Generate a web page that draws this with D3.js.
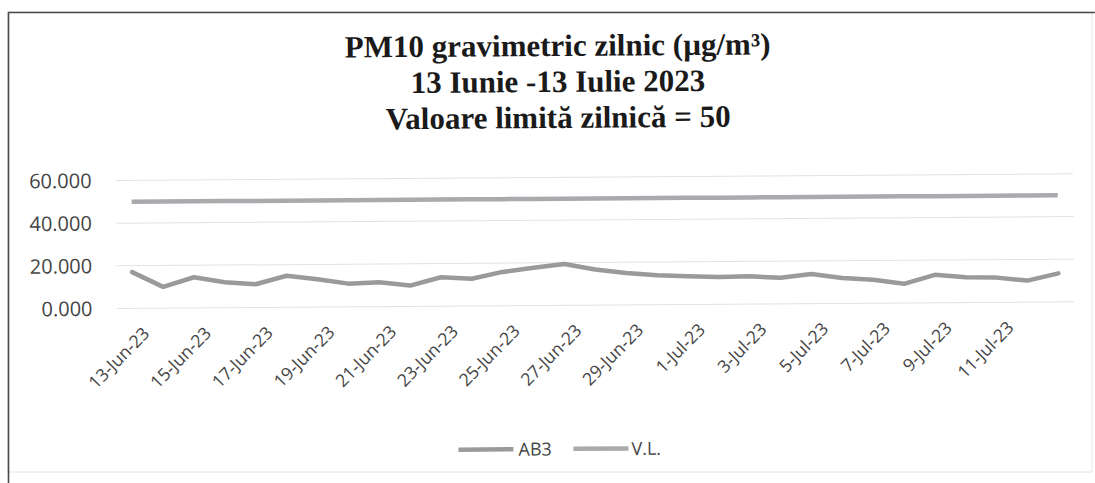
<!DOCTYPE html>
<html><head><meta charset="utf-8">
<script src="https://cdn.jsdelivr.net/npm/d3@7"></script>
<style>html,body{margin:0;padding:0;background:#fff}svg{display:block}</style>
</head><body>
<svg id="chart" width="1095" height="483"></svg>
<script>
const categories = ["13-Jun-23","14-Jun-23","15-Jun-23","16-Jun-23","17-Jun-23","18-Jun-23","19-Jun-23","20-Jun-23","21-Jun-23","22-Jun-23","23-Jun-23","24-Jun-23","25-Jun-23","26-Jun-23","27-Jun-23","28-Jun-23","29-Jun-23","30-Jun-23","1-Jul-23","2-Jul-23","3-Jul-23","4-Jul-23","5-Jul-23","6-Jul-23","7-Jul-23","8-Jul-23","9-Jul-23","10-Jul-23","11-Jul-23","12-Jul-23","13-Jul-23"];
const ab3Values = [17.0,10.0,14.4,12.0,10.9,14.8,13.1,10.9,11.5,9.8,13.6,12.8,15.9,17.7,19.4,16.7,15.0,13.8,13.2,12.8,13.0,12.2,13.9,11.9,11.0,9.0,13.1,11.9,11.6,10.1,13.4];
const vlValues = [50,50,50,50,50,50,50,50,50,50,50,50,50,50,50,50,50,50,50,50,50,50,50,50,50,50,50,50,50,50,50];
const yTicks = [0,20,40,60];
const tickLabels = ["13-Jun-23","15-Jun-23","17-Jun-23","19-Jun-23","21-Jun-23","23-Jun-23","25-Jun-23","27-Jun-23","29-Jun-23","1-Jul-23","3-Jul-23","5-Jul-23","7-Jul-23","9-Jul-23","11-Jul-23"];
const titleLines = ["PM10 gravimetric zilnic (\u00b5g/m\u00b3)","13 Iunie -13 Iulie 2023","Valoare limit\u0103 zilnic\u0103 = 50"];
const seriesNames = ["AB3","V.L."];
const seriesColors = ["#9a9a9a","#a9a9ae"];

const svg = d3.select("#chart");

// page frame from the scan
svg.append("rect").attr("x",8).attr("y",12).attr("width",1084).attr("height",460)
  .attr("fill","none").attr("stroke","#e4e4e4").attr("stroke-width",1);
svg.append("path").attr("d","M8.5,483 V12.5 H1095").attr("fill","none")
  .attr("stroke","#4a4a4a").attr("stroke-width",1.6);

const g = svg.append("g").attr("transform","rotate(-0.4,548,240)");

const x = d3.scaleBand().domain(categories).range([116.5,1073.5]);
const cx = d => x(d) + x.bandwidth()/2;
const y = d3.scaleLinear().domain([0,60]).range([305.5,177.5]);

// gridlines
g.append("g").selectAll("line").data(yTicks).join("line")
  .attr("x1",116.5).attr("x2",1073.5)
  .attr("y1",d=>y(d)).attr("y2",d=>y(d))
  .attr("stroke","#e2e2e2").attr("stroke-width",1);

// y labels
g.append("g").selectAll("text").data(yTicks).join("text")
  .attr("x",92).attr("y",d=>y(d)).attr("dy","0.36em")
  .attr("text-anchor","end")
  .attr("font-family","'Open Sans', sans-serif").attr("font-size",20)
  .attr("fill","#444")
  .text(d=>d3.format(".3f")(d));

// x labels
g.append("g").selectAll("text").data(tickLabels).join("text")
  .attr("transform",d=>`translate(${cx(d)+9},323) rotate(-45)`)
  .attr("dy","0.72em")
  .attr("text-anchor","end")
  .attr("font-family","'Open Sans', sans-serif").attr("font-size",17.5)
  .attr("fill","#444")
  .text(d=>d);

// lines
const line = d3.line().x((d,i)=>cx(categories[i])).y(d=>y(d));
g.append("path").datum(vlValues).attr("d",line).attr("fill","none")
  .attr("stroke",seriesColors[1]).attr("stroke-width",4.5).attr("stroke-linejoin","round");
g.append("path").datum(ab3Values).attr("d",line).attr("fill","none")
  .attr("stroke",seriesColors[0]).attr("stroke-width",4.5).attr("stroke-linejoin","round").attr("stroke-linecap","round");

// title
g.append("g").selectAll("text").data(titleLines).join("text")
  .attr("x",559).attr("y",(d,i)=>56+i*36)
  .attr("text-anchor","middle")
  .attr("font-family","'Liberation Serif','Times New Roman',serif")
  .attr("font-weight","bold").attr("font-size",31).attr("fill","#1a1a1a")
  .text(d=>d);

// legend
const legendPos = [{sx:457,tx:517},{sx:572,tx:630}];
const lg = g.append("g").selectAll("g").data(seriesNames).join("g");
lg.append("line").attr("x1",(d,i)=>legendPos[i].sx).attr("x2",(d,i)=>legendPos[i].sx+55)
  .attr("y1",449).attr("y2",449).attr("stroke",(d,i)=>seriesColors[i]).attr("stroke-width",4.5);
lg.append("text").attr("x",(d,i)=>legendPos[i].tx).attr("y",449).attr("dy","0.36em")
  .attr("font-family","'Open Sans', sans-serif").attr("font-size",18).attr("fill","#444")
  .text(d=>d);
</script>
</body></html>
